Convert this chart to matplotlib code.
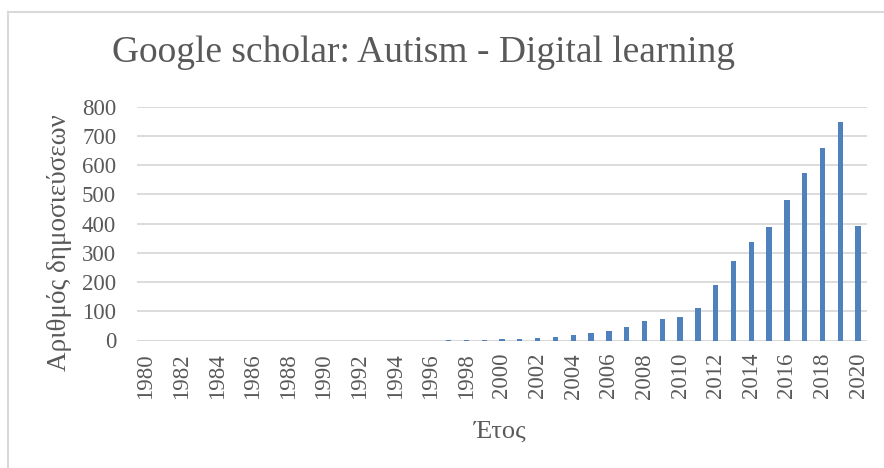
import matplotlib
matplotlib.use("Agg")
import matplotlib.pyplot as plt
from matplotlib.lines import Line2D

years = list(range(1980, 2021))
counts = [0]*17 + [3, 3, 3, 4, 4, 7, 12, 19, 24, 32, 45, 66, 74, 81, 110, 190, 271, 336, 389, 481, 574, 659, 749, 393]
tick_years = [y for y in years if y % 2 == 0]
yticks = [0, 100, 200, 300, 400, 500, 600, 700, 800]

title = "Google scholar: Autism - Digital learning"
xlabel = "Έτος"
ylabel = "Αριθμός δημοσιεύσεων"

plt.rcParams['font.family'] = ['Liberation Serif', 'DejaVu Serif']
gray = '#595959'
grid = '#D9D9D9'
bar_color = '#4F81BD'

W, H = 884, 468
fig = plt.figure(figsize=(W/100, H/100), dpi=100)
ax = fig.add_axes([137/W, 1 - 340.5/H, (867-137)/W, (340.5-106.7)/H])

ax.bar(years, counts, width=0.3, color=bar_color, zorder=3)
ax.set_xlim(years[0]-0.5, years[-1]+0.5)
ax.set_ylim(0, 800)
ax.set_yticks(yticks)
ax.set_yticklabels([str(v) for v in yticks], fontsize=16.5, color=gray)
ax.set_xticks(tick_years)
ax.set_xticklabels([str(y) for y in tick_years], rotation=90, fontsize=16.5, color=gray)
ax.tick_params(axis='both', length=0)
ax.tick_params(axis='y', pad=15)
ax.tick_params(axis='x', pad=9)
ax.grid(axis='y', color=grid, linewidth=1.3, zorder=0)
for s in ax.spines.values():
    s.set_visible(False)
ax.axhline(0, color=grid, linewidth=1.5, zorder=2)

fig.text(423/W, 1 - 53/H, title, ha='center', va='center', fontsize=27, color=gray)
fig.text(500/W, 1 - 432/H, xlabel, ha='center', va='center', fontsize=19, color=gray)
fig.text(60/W, 1 - 243/H, ylabel, ha='center', va='center', rotation=90, fontsize=19.5, color=gray)

fig.add_artist(Line2D([8/W, 8/W], [0, 1 - 11.5/H], transform=fig.transFigure, color=grid, linewidth=1.5))
fig.add_artist(Line2D([8/W, 1], [1 - 11.5/H, 1 - 11.5/H], transform=fig.transFigure, color=grid, linewidth=1.5))

fig.savefig("out.png", dpi=100)
